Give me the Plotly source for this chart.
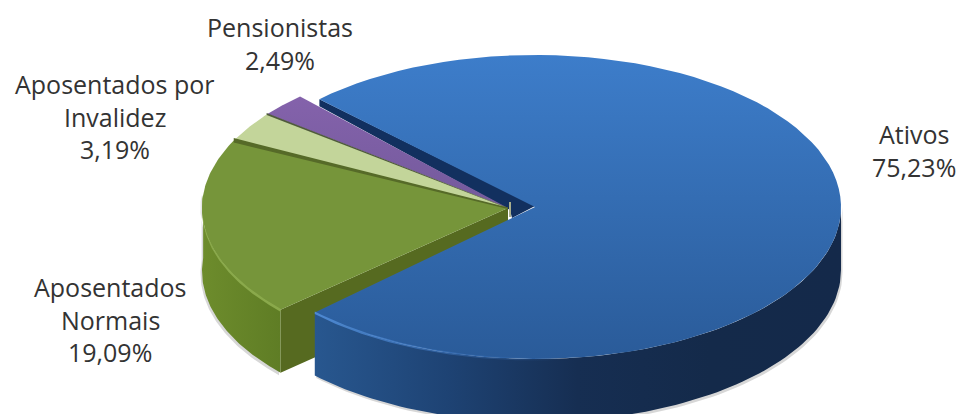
import numpy as np
import plotly.graph_objects as go

# Slices, clockwise from the start of the largest one
categories = ["Ativos", "Aposentados Normais", "Aposentados por Invalidez", "Pensionistas"]
values = [75.23, 19.09, 3.19, 2.49]
label_text = ["Ativos<br>75,23%", "Aposentados<br>Normais<br>19,09%",
              "Aposentados por<br>Invalidez<br>3,19%", "Pensionistas<br>2,49%"]
label_x = [914, 110, 115, 280]
label_y = [134, 287, 84, 27]

# Pie projection, in plot pixels
START_DEG = 315.2
REST_ROTATE = 2.0          # perspective turns the smaller slices slightly
RX, RY = 306, 152
DEPTH = 63
MAIN_CENTRE = (535, 207)   # the large slice is pulled out to the right
REST_CENTRE = (508, 208)
FONT = "Open Sans"
FONT_SIZE = 25
LINE_PITCH = 32.5


def rim(centre, a, b, n=90, dy=0):
    t = np.radians(np.linspace(a, b, n))
    return centre[0] + RX * np.sin(t), centre[1] + dy - RY * np.cos(t)


def add_poly(fig, x, y, color=None, gradient=None):
    kw = dict(fillgradient=gradient) if gradient else dict(fillcolor=color)
    fig.add_trace(go.Scatter(x=list(x), y=list(y), mode="lines", fill="toself",
                             line=dict(width=0), hoverinfo="skip", showlegend=False, **kw))


def grad(kind, stops):
    n = len(stops) - 1
    return dict(type=kind, colorscale=[[i / n, c] for i, c in enumerate(stops)])


def sector(centre, a, b):
    x, y = rim(centre, a, b)
    return np.r_[centre[0], x, centre[0]], np.r_[centre[1], y, centre[1]]


def wall(centre, a, b, depth=DEPTH):
    x1, y1 = rim(centre, a, b)
    x2, y2 = rim(centre, a, b, dy=depth)
    return np.r_[x1, x2[::-1]], np.r_[y1, y2[::-1]]


def band(centre, a, up, down):
    # Tapered seam running from the pie's centre out to the rim
    x, y = rim(centre, a, a, n=1)
    return ([centre[0], x[0] - 1, x[0] - 1, centre[0]],
            [centre[1] - up * 0.3, y[0] - up, y[0] + down, centre[1] + down * 0.3])


edges = START_DEG + np.r_[0, np.cumsum(values)] * 3.6
ativos = (edges[0], edges[1])
normais = (edges[1] + REST_ROTATE, edges[2] + REST_ROTATE)
invalidez = (edges[2] + REST_ROTATE, edges[3] + REST_ROTATE)
pension = (edges[3] + REST_ROTATE, edges[4] + REST_ROTATE)
main_front = ativos[1] - 360   # the same boundaries, measured within the first turn
rest_front = normais[0] - 360

fig = go.Figure()

# Soft edge round the side walls
add_poly(fig, *wall((REST_CENTRE[0] - 1.5, REST_CENTRE[1]), rest_front, 275, DEPTH + 2.5),
         color="rgba(110,110,110,0.28)")
add_poly(fig, *wall((MAIN_CENTRE[0] + 1.5, MAIN_CENTRE[1]), 90, main_front, DEPTH + 2.5),
         color="rgba(110,110,110,0.28)")

# Navy cut face showing behind the other slices
sx, sy = rim(MAIN_CENTRE, ativos[0], ativos[0], n=1)
add_poly(fig, [sx[0], MAIN_CENTRE[0], REST_CENTRE[0] + 4, REST_CENTRE[0] + 2, sx[0]],
         [sy[0], MAIN_CENTRE[1] - 1, REST_CENTRE[1] + 10, REST_CENTRE[1] + 2, sy[0] + 7], color="#12305f")

# Back slices and the cut faces of the green one
gx, gy = rim(REST_CENTRE, rest_front, rest_front, n=1)
add_poly(fig, [REST_CENTRE[0], REST_CENTRE[0], gx[0], gx[0]],
         [REST_CENTRE[1], REST_CENTRE[1] + DEPTH, gy[0] + DEPTH, gy[0]], color="#566a20")
add_poly(fig, *wall(REST_CENTRE, rest_front, 275),
         gradient=grad("horizontal", ["#6d8c2c", "#5f7d25"]))
add_poly(fig, *sector(REST_CENTRE, *pension), gradient=grad("vertical", ["#735a9c", "#8462ab"]))
add_poly(fig, *sector(REST_CENTRE, *invalidez), color="#c3d59a")
add_poly(fig, *sector(REST_CENTRE, *normais), color="#76953a")
wx, wy = rim(REST_CENTRE, rest_front, 275)
add_poly(fig, np.r_[wx, wx[::-1]], np.r_[wy - 1, wy[::-1] + 2], color="#8aa94b")
add_poly(fig, *band(REST_CENTRE, pension[0], 1, 1), color="#4f5a3c")
add_poly(fig, *band(REST_CENTRE, invalidez[0], 1.5, 3), color="#566a28")
add_poly(fig, [REST_CENTRE[0] + 1, REST_CENTRE[0] + 3, REST_CENTRE[0] + 3, REST_CENTRE[0] + 1],
         [REST_CENTRE[1] - 6, REST_CENTRE[1] - 6, REST_CENTRE[1] + 9, REST_CENTRE[1] + 9], color="#a9ae8c")

# Large slice, drawn last
add_poly(fig, *wall(MAIN_CENTRE, 90, main_front),
         gradient=grad("horizontal", ["#28578f", "#1e4374", "#162e52", "#142a4a", "#14294a"]))
add_poly(fig, *sector(MAIN_CENTRE, *ativos), gradient=grad("vertical", ["#2a5b99", "#3d7dca"]))
lx, ly = rim(MAIN_CENTRE, 175, main_front)
add_poly(fig, np.r_[lx, lx[::-1]], np.r_[ly - 1, ly[::-1] + 1.5],
         gradient=grad("horizontal", ["rgba(80,140,215,0.95)", "rgba(60,120,200,0)"]))

layout_notes = []
for text, x, y in zip(label_text, label_x, label_y):
    for i, line in enumerate(text.split("<br>")):
        layout_notes.append(dict(x=x, y=y + i * LINE_PITCH, text=line, showarrow=False,
                                 xref="x", yref="y", xanchor="center", yanchor="middle",
                                 font=dict(family=FONT, size=FONT_SIZE, color="#333333")))

fig.update_layout(
    width=960, height=414, margin=dict(l=0, r=0, t=0, b=0),
    paper_bgcolor="white", plot_bgcolor="white", showlegend=False,
    xaxis=dict(range=[0, 960], visible=False, fixedrange=True),
    yaxis=dict(range=[414, 0], visible=False, fixedrange=True),
    annotations=layout_notes,
)
fig.write_html("out.html", config=dict(displayModeBar=False))
